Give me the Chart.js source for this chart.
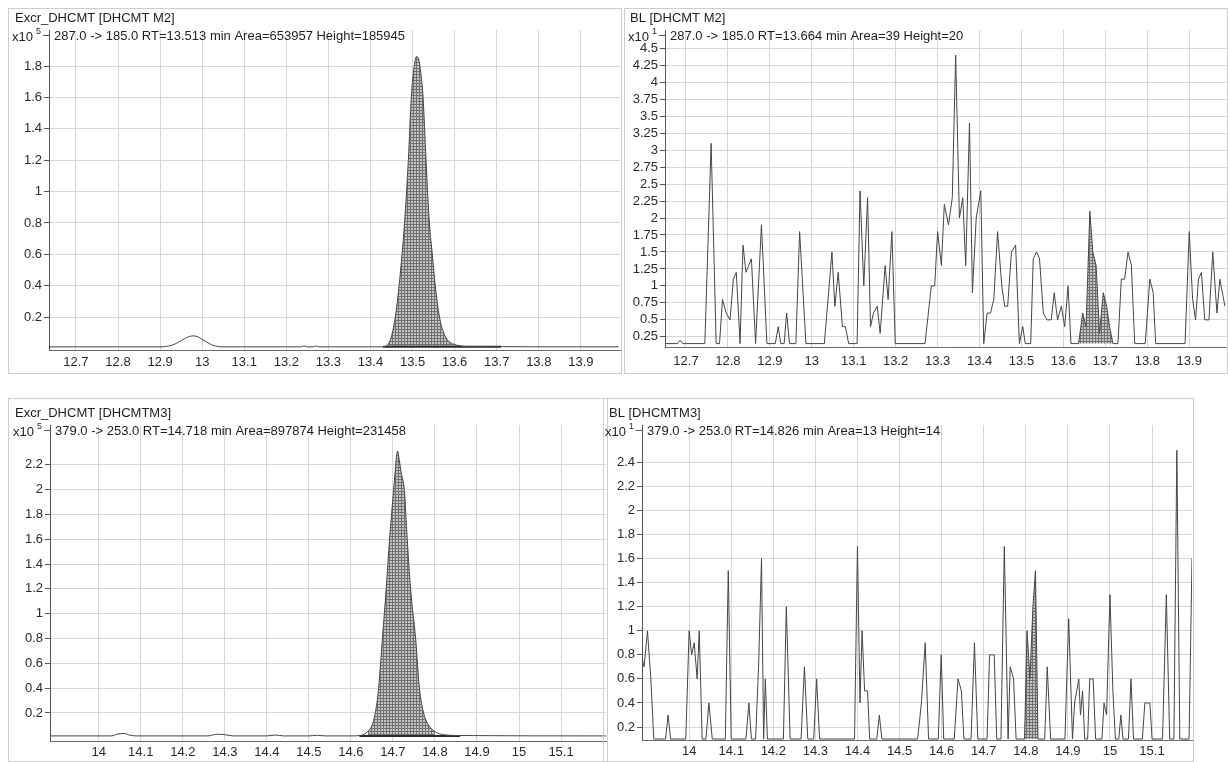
<!DOCTYPE html>
<html>
<head>
<meta charset="utf-8">
<script src="https://cdn.jsdelivr.net/npm/chart.js@4.4.1/dist/chart.umd.min.js"></script>
<style>
  html, body { margin: 0; padding: 0; background: #fff; }
  body { width: 1228px; height: 762px; position: relative; overflow: hidden; }
  .panel { position: absolute; border: 1px solid #cdcdcd; box-sizing: border-box; }
  .panel canvas { position: absolute; left: 0; top: 0; }
</style>
</head>
<body>
<div class="panel" style="left:8px;top:8px;width:614px;height:366px"><canvas id="tl" width="612" height="364"></canvas></div>
<div class="panel" style="left:624px;top:8px;width:604px;height:366px"><canvas id="tr" width="602" height="364"></canvas></div>
<div class="panel" style="left:8px;top:398px;width:600px;height:364px"><canvas id="bl" width="598" height="362"></canvas></div>
<div class="panel" style="left:603px;top:398px;width:591px;height:364px"><canvas id="br" width="589" height="362"></canvas></div>
<script>
// ---- top left: Excr_DHCMT, 287 -> 185 (x10^5)
const tlTime = [12.636, 12.9, 12.915, 12.93, 12.945, 12.958, 12.968, 12.978, 12.988, 12.998,
  13.01, 13.022, 13.035, 13.05, 13.235, 13.242, 13.25, 13.262, 13.27, 13.278,
  13.42, 13.435, 13.445, 13.452, 13.459, 13.468, 13.475, 13.481, 13.49, 13.497,
  13.504, 13.509, 13.514, 13.519, 13.525, 13.532, 13.54, 13.547, 13.554, 13.564,
  13.574, 13.584, 13.595, 13.61, 13.63, 13.99];
const tlSignal = [0.01, 0.01, 0.013, 0.022, 0.042, 0.062, 0.075, 0.08, 0.076, 0.062,
  0.042, 0.024, 0.013, 0.01, 0.01, 0.016, 0.01, 0.01, 0.016, 0.01,
  0.01, 0.012, 0.04, 0.1, 0.2, 0.4, 0.6, 0.8, 1.2, 1.6,
  1.8, 1.86, 1.85, 1.77, 1.6, 1.2, 0.8, 0.6, 0.4, 0.2,
  0.1, 0.05, 0.03, 0.018, 0.012, 0.01];
const tlIntegration = [13.43, 13.62];
const tlBaseline = [13.43, 13.71];
const tlTicksX = [12.7, 12.8, 12.9, 13, 13.1, 13.2, 13.3, 13.4, 13.5, 13.6, 13.7, 13.8, 13.9];
const tlTicksY = [0.2, 0.4, 0.6, 0.8, 1, 1.2, 1.4, 1.6, 1.8];

// ---- top right: BL, 287 -> 185 (x10^1)
const trTime = [12.650, 12.680, 12.686, 12.692, 12.745, 12.760, 12.772, 12.780, 12.787, 12.796,
  12.805, 12.813, 12.820, 12.829, 12.836, 12.843, 12.856, 12.866, 12.880, 12.893,
  12.913, 12.920, 12.926, 12.934, 12.940, 12.947, 12.962, 12.971, 12.986, 13.030,
  13.048, 13.055, 13.063, 13.073, 13.080, 13.088, 13.108, 13.115, 13.124, 13.133,
  13.140, 13.147, 13.156, 13.163, 13.175, 13.182, 13.191, 13.199, 13.270, 13.285,
  13.293, 13.300, 13.309, 13.316, 13.326, 13.335, 13.343, 13.352, 13.360, 13.367,
  13.376, 13.383, 13.392, 13.403, 13.410, 13.418, 13.426, 13.434, 13.443, 13.453,
  13.460, 13.467, 13.476, 13.486, 13.495, 13.503, 13.509, 13.522, 13.528, 13.536,
  13.543, 13.552, 13.561, 13.571, 13.578, 13.586, 13.595, 13.603, 13.611, 13.618,
  13.636, 13.646, 13.654, 13.663, 13.670, 13.678, 13.686, 13.695, 13.703, 13.710,
  13.718, 13.730, 13.738, 13.746, 13.754, 13.762, 13.770, 13.795, 13.806, 13.814,
  13.820, 13.890, 13.900, 13.908, 13.915, 13.922, 13.929, 13.937, 13.947, 13.956,
  13.966, 13.973, 13.985];
const trSignal = [0.15, 0.15, 0.2, 0.15, 0.15, 3.1, 0.15, 0.15, 0.8, 0.6,
  0.5, 1.1, 1.2, 0.15, 1.6, 1.2, 1.4, 0.15, 1.9, 0.15,
  0.15, 0.4, 0.15, 0.15, 0.6, 0.15, 0.15, 1.8, 0.15, 0.15,
  1.5, 0.7, 1.2, 0.4, 0.4, 0.15, 0.15, 2.4, 1.0, 2.3,
  0.4, 0.6, 0.7, 0.3, 1.3, 0.8, 1.8, 0.15, 0.15, 1.0,
  1.0, 1.8, 1.3, 2.2, 1.9, 2.3, 4.4, 2.0, 2.3, 1.3,
  3.4, 0.9, 2.0, 2.4, 0.15, 0.6, 0.6, 0.8, 1.8, 1.0,
  0.7, 0.7, 1.5, 1.6, 0.15, 0.4, 0.15, 0.15, 1.4, 1.5,
  1.4, 0.6, 0.5, 0.5, 0.9, 0.5, 0.7, 0.4, 1.0, 0.15,
  0.15, 0.6, 0.4, 2.1, 1.5, 1.3, 0.3, 0.9, 0.7, 0.4,
  0.15, 0.15, 1.1, 1.1, 1.5, 1.3, 0.15, 0.15, 1.1, 0.9,
  0.15, 0.15, 1.8, 0.8, 0.5, 1.1, 1.2, 0.5, 0.5, 1.5,
  0.6, 1.1, 0.7];
const trIntegration = [13.636, 13.718];
const trTicksX = [12.7, 12.8, 12.9, 13, 13.1, 13.2, 13.3, 13.4, 13.5, 13.6, 13.7, 13.8, 13.9];
const trTicksY = [0.25, 0.5, 0.75, 1, 1.25, 1.5, 1.75, 2, 2.25, 2.5, 2.75, 3, 3.25, 3.5, 3.75, 4, 4.25, 4.5];

// ---- bottom left: Excr_DHCMT, 379 -> 253 (x10^5)
const blTime = [13.884, 14.03, 14.045, 14.06, 14.075, 14.09, 14.26, 14.28, 14.30, 14.32,
  14.40, 14.42, 14.44, 14.50, 14.52, 14.54, 14.60, 14.625, 14.64, 14.65,
  14.658, 14.666, 14.675, 14.684, 14.692, 14.698, 14.703, 14.708, 14.711, 14.715,
  14.72, 14.727, 14.734, 14.742, 14.754, 14.763, 14.773, 14.785, 14.80, 14.82,
  14.86, 15.21];
const blSignal = [0.015, 0.015, 0.03, 0.035, 0.02, 0.015, 0.015, 0.028, 0.025, 0.015,
  0.015, 0.022, 0.015, 0.015, 0.02, 0.015, 0.015, 0.02, 0.05, 0.1,
  0.2, 0.4, 0.8, 1.2, 1.6, 1.85, 2.05, 2.25, 2.31, 2.24,
  2.13, 2.0, 1.6, 1.2, 0.8, 0.4, 0.2, 0.1, 0.05, 0.025,
  0.018, 0.015];
const blIntegration = [14.635, 14.80];
const blBaseline = [14.62, 14.86];
const blTicksX = [14, 14.1, 14.2, 14.3, 14.4, 14.5, 14.6, 14.7, 14.8, 14.9, 15, 15.1];
const blTicksY = [0.2, 0.4, 0.6, 0.8, 1, 1.2, 1.4, 1.6, 1.8, 2, 2.2];

// ---- bottom right: BL, 379 -> 253 (x10^1)
const brTime = [13.881, 13.886, 13.893, 13.901, 13.909, 13.916, 13.944, 13.950, 13.956, 13.992,
  14.000, 14.006, 14.012, 14.019, 14.024, 14.031, 14.040, 14.047, 14.055, 14.086,
  14.093, 14.100, 14.135, 14.142, 14.148, 14.158, 14.165, 14.172, 14.177, 14.181,
  14.186, 14.224, 14.231, 14.240, 14.266, 14.274, 14.282, 14.296, 14.303, 14.310,
  14.393, 14.400, 14.406, 14.411, 14.417, 14.424, 14.429, 14.446, 14.452, 14.458,
  14.543, 14.552, 14.561, 14.569, 14.592, 14.599, 14.605, 14.630, 14.639, 14.647,
  14.653, 14.670, 14.678, 14.686, 14.708, 14.714, 14.725, 14.731, 14.741, 14.749,
  14.758, 14.763, 14.771, 14.777, 14.797, 14.803, 14.810, 14.817, 14.823, 14.829,
  14.845, 14.851, 14.859, 14.893, 14.902, 14.911, 14.916, 14.926, 14.930, 14.935,
  14.940, 14.947, 14.952, 14.960, 14.966, 14.981, 14.986, 14.992, 15.000, 15.007,
  15.013, 15.021, 15.026, 15.031, 15.044, 15.050, 15.056, 15.077, 15.083, 15.095,
  15.100, 15.125, 15.134, 15.142, 15.152, 15.159, 15.166, 15.188, 15.195];
const brSignal = [0.9, 0.8, 0.7, 1.0, 0.6, 0.1, 0.1, 0.3, 0.1, 0.1,
  1.0, 0.8, 0.9, 0.6, 1.0, 0.1, 0.1, 0.4, 0.1, 0.1,
  1.5, 0.1, 0.1, 0.4, 0.1, 0.1, 0.7, 1.6, 0.1, 0.6,
  0.1, 0.1, 1.2, 0.1, 0.1, 0.7, 0.1, 0.1, 0.6, 0.1,
  0.1, 1.7, 0.4, 1.0, 0.5, 0.5, 0.1, 0.1, 0.3, 0.1,
  0.1, 0.4, 0.9, 0.1, 0.1, 0.8, 0.1, 0.1, 0.6, 0.5,
  0.1, 0.1, 0.9, 0.1, 0.1, 0.8, 0.8, 0.1, 0.1, 1.7,
  0.1, 0.7, 0.6, 0.1, 0.1, 1.0, 0.6, 1.2, 1.5, 0.1,
  0.1, 0.7, 0.1, 0.1, 1.1, 0.1, 0.4, 0.6, 0.3, 0.5,
  0.1, 0.1, 0.6, 0.6, 0.1, 0.1, 0.4, 0.3, 1.3, 0.5,
  0.1, 0.1, 0.3, 0.1, 0.1, 0.6, 0.1, 0.1, 0.4, 0.4,
  0.1, 0.1, 1.3, 0.1, 0.1, 2.5, 0.1, 0.1, 1.6];
const brIntegration = [14.797, 14.829];
const brTicksX = [14, 14.1, 14.2, 14.3, 14.4, 14.5, 14.6, 14.7, 14.8, 14.9, 15, 15.1];
const brTicksY = [0.2, 0.4, 0.6, 0.8, 1, 1.2, 1.4, 1.6, 1.8, 2, 2.2, 2.4];

const FONT = '"Liberation Sans", Arial, sans-serif';

// fine cross hatch used for the integrated peak area
const tile = document.createElement('canvas');
tile.width = 3; tile.height = 3;
const tg = tile.getContext('2d');
tg.fillStyle = '#c4c4c4'; tg.fillRect(0, 0, 3, 3);
tg.fillStyle = '#707070'; tg.fillRect(0, 2, 3, 1); tg.fillRect(2, 0, 1, 3);
const hatch = tg.createPattern(tile, 'repeat');

const headerPlugin = {
  id: 'header',
  afterDraw(chart, args, o) {
    const ctx = chart.ctx, a = chart.chartArea;
    ctx.save();
    ctx.fillStyle = '#1e1e1e';
    ctx.textBaseline = 'middle';
    ctx.textAlign = 'left';
    ctx.font = '13px ' + FONT;
    ctx.fillText(o.title, o.titleX, a.top - 12);
    ctx.fillText(o.sub, a.left + 5, a.top + 6);
    ctx.textAlign = 'right';
    ctx.fillText('x10', a.left - 16, a.top + 7);
    ctx.font = '9px ' + FONT;
    ctx.fillText(o.exp, a.left - 8, a.top + 2);
    ctx.strokeStyle = '#555';
    ctx.lineWidth = 1;
    ctx.beginPath();
    ctx.moveTo(a.left - 6, a.top + 5.5);
    ctx.lineTo(a.left, a.top + 5.5);
    ctx.stroke();
    ctx.restore();
  }
};

function zip(xs, ys) {
  return xs.map((x, i) => ({ x: x, y: ys[i] }));
}

function makePanel(id, p) {
  const pts = zip(p.time, p.signal);
  const mode = p.smooth ? 'monotone' : 'default';
  const datasets = [{
    data: pts,
    borderColor: '#454545',
    borderWidth: 1,
    cubicInterpolationMode: mode,
    fill: false
  }];
  if (p.baseline) {
    datasets.push({
      data: p.baseline.map(x => ({ x: x, y: p.floor })),
      borderColor: '#2a2a2a',
      borderWidth: 2,
      fill: false
    });
  }
  datasets.push({
    data: pts.filter(d => d.x >= p.integration[0] && d.x <= p.integration[1]),
    borderColor: 'rgba(0,0,0,0)',
    borderWidth: 0,
    backgroundColor: hatch,
    cubicInterpolationMode: mode,
    fill: { value: p.floor }
  });

  return new Chart(document.getElementById(id), {
    type: 'line',
    data: { datasets: datasets },
    options: {
      responsive: false,
      animation: false,
      events: [],
      layout: { padding: { top: p.padTop, right: p.padRight, left: 0, bottom: 0 } },
      elements: { point: { radius: 0 }, line: { tension: 0 } },
      plugins: {
        legend: { display: false },
        tooltip: { enabled: false },
        header: { title: p.title, sub: p.sub, exp: p.exp, titleX: p.titleX }
      },
      scales: {
        x: {
          type: 'linear',
          min: p.xRange[0],
          max: p.xRange[1],
          afterBuildTicks: s => { s.ticks = p.ticksX.map(v => ({ value: v })); },
          afterFit: s => { s.height = p.xH; },
          ticks: {
            autoSkip: false, maxRotation: 0, padding: p.xPad,
            color: '#2a2a2a', font: { family: FONT, size: 13 },
            callback: v => String(v)
          },
          grid: { color: '#d6d6d6', lineWidth: 1, drawTicks: false },
          border: { color: '#6a6a6a', width: 1 }
        },
        y: {
          type: 'linear',
          min: p.yRange[0],
          max: p.yRange[1],
          afterBuildTicks: s => { s.ticks = p.ticksY.map(v => ({ value: v })); },
          afterFit: s => { s.width = p.yW; },
          ticks: {
            padding: 2,
            color: '#2a2a2a', font: { family: FONT, size: 13 },
            callback: v => String(v)
          },
          grid: { color: '#d6d6d6', lineWidth: 1, tickLength: 5, tickColor: '#555' },
          border: { color: '#555', width: 1 }
        }
      }
    },
    plugins: [headerPlugin]
  });
}

makePanel('tl', {
  time: tlTime, signal: tlSignal, integration: tlIntegration, baseline: tlBaseline, floor: 0.01,
  ticksX: tlTicksX, ticksY: tlTicksY, xRange: [12.636, 13.993], yRange: [-0.01, 2.03],
  smooth: true, yW: 40, xH: 23, xPad: 5, padTop: 21, padRight: 1, titleX: 6,
  title: 'Excr_DHCMT [DHCMT M2]', exp: '5',
  sub: '287.0 -> 185.0 RT=13.513 min Area=653957 Height=185945'
});

makePanel('tr', {
  time: trTime, signal: trSignal, integration: trIntegration, baseline: null, floor: 0.15,
  ticksX: trTicksX, ticksY: trTicksY, xRange: [12.65, 13.99], yRange: [0.1, 4.77],
  smooth: false, yW: 40, xH: 26, xPad: 7, padTop: 21, padRight: 0, titleX: 5,
  title: 'BL [DHCMT M2]', exp: '1',
  sub: '287.0 -> 185.0 RT=13.664 min Area=39 Height=20'
});

makePanel('bl', {
  time: blTime, signal: blSignal, integration: blIntegration, baseline: blBaseline, floor: 0.015,
  ticksX: blTicksX, ticksY: blTicksY, xRange: [13.884, 15.207], yRange: [-0.026, 2.52],
  smooth: true, yW: 41, xH: 20, xPad: 4, padTop: 26, padRight: 1, titleX: 6,
  title: 'Excr_DHCMT [DHCMTM3]', exp: '5',
  sub: '379.0 -> 253.0 RT=14.718 min Area=897874 Height=231458'
});

makePanel('br', {
  time: brTime, signal: brSignal, integration: brIntegration, baseline: null, floor: 0.1,
  ticksX: brTicksX, ticksY: brTicksY, xRange: [13.888, 15.195], yRange: [0.092, 2.71],
  smooth: false, yW: 38, xH: 21, xPad: 4, padTop: 26, padRight: 1, titleX: 5,
  title: 'BL [DHCMTM3]', exp: '1',
  sub: '379.0 -> 253.0 RT=14.826 min Area=13 Height=14'
});
</script>
</body>
</html>
